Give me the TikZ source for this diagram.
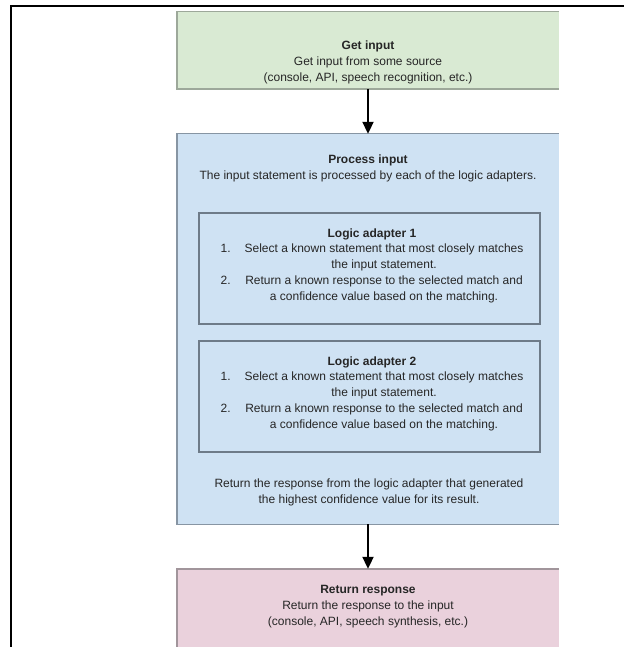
\documentclass[tikz,border=0pt]{standalone}
\usepackage{fontspec}
\setmainfont{Liberation Sans}
\usetikzlibrary{positioning,arrows.meta}

\definecolor{getfill}{HTML}{D9EAD3}
\definecolor{procfill}{HTML}{CFE2F3}
\definecolor{retfill}{HTML}{EAD1DC}
\definecolor{getline}{HTML}{9DA89A}
\definecolor{procline}{HTML}{8795A3}
\definecolor{adaptline}{HTML}{6E7B88}
\definecolor{retline}{HTML}{A1959B}
\definecolor{txtcol}{HTML}{262626}

\begin{document}
\begin{tikzpicture}[
      x=1pt, y=-1pt,
      >={Triangle[width=11pt,length=12pt]},
      box/.style={draw=none,inner sep=0pt,minimum width=382pt},
      adapter/.style={draw=adaptline,line width=1.3pt,inner sep=0pt,minimum width=341pt,minimum height=111pt},
      txt/.style={align=center,inner sep=0pt,text=txtcol,font=\fontsize{12}{16}\selectfont},
      rim/.style={line width=1.4pt},
      flow/.style={->,line width=2pt,black},
    ]
    \useasboundingbox (0,0) rectangle (624,647);

    % frame
    \draw[line width=2pt] (11,647) -- (11,6) -- (624,6);

    % Get input
    \node[box,fill=getfill,minimum height=77pt] (getin) at (368,50.5) {};
    \draw[rim,getline] (getin.north east) -- (getin.north west) -- (getin.south west) -- (getin.south east);
    \node[txt] (getintxt) at (368,62) {\textbf{Get input}\\Get input from some source\\(console, API, speech recognition, etc.)};

    % Process input
    \node[box,fill=procfill,minimum height=390pt] (procin) at (368,329) {};
    \draw[rim,procline] (procin.north east) -- (procin.north west) -- (procin.south west) -- (procin.south east);
    \node[txt] (procintxt) at (368,168) {\textbf{Process input}\\The input statement is processed by each of the logic adapters.};

    % Logic adapters
    \node[adapter] (adapt1) at (369.5,268.5) {};
    \node[txt] (adapt1txt) at (372,267) {\textbf{Logic adapter 1}\\
      \begin{tabular}{@{}l@{\hspace{14pt}}c@{}}
        1. & Select a known statement that most closely matches\\
           & the input statement.\\
        2. & Return a known response to the selected match and\\
           & a confidence value based on the matching.
      \end{tabular}};

    \node[adapter] (adapt2) at (369.5,396.5) {};
    \node[txt] (adapt2txt) at (372,395) {\textbf{Logic adapter 2}\\
      \begin{tabular}{@{}l@{\hspace{14pt}}c@{}}
        1. & Select a known statement that most closely matches\\
           & the input statement.\\
        2. & Return a known response to the selected match and\\
           & a confidence value based on the matching.
      \end{tabular}};

    \node[txt] (picktxt) at (369,492) {Return the response from the logic adapter that generated\\the highest confidence value for its result.};

    % Return response
    \node[box,fill=retfill,minimum height=78pt] (retresp) at (368,608) {};
    \draw[rim,retline] (retresp.north east) -- (retresp.north west) -- (retresp.south west);
    \node[txt] (retresptxt) at (368,607) {\textbf{Return response}\\Return the response to the input\\(console, API, speech synthesis, etc.)};

    \draw[flow] (getin) -- (procin);
    \draw[flow] (procin) -- (retresp);
  \end{tikzpicture}
\end{document}
